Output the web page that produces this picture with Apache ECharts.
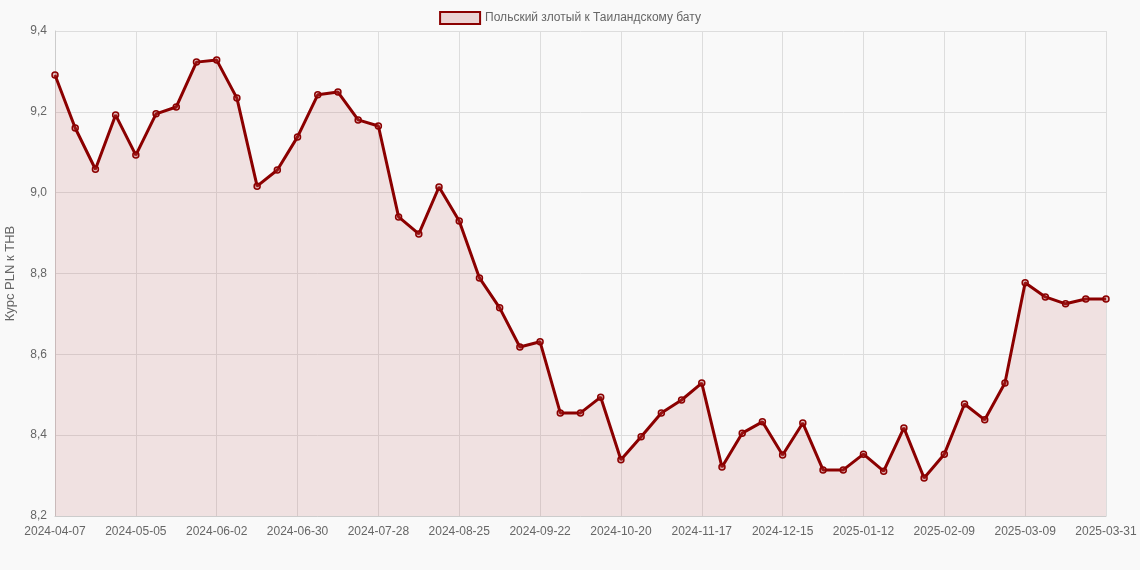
<!DOCTYPE html>
<html><head><meta charset="utf-8">
<script src="https://cdn.jsdelivr.net/npm/echarts@6/dist/echarts.min.js"></script>
<style>html,body{margin:0;background:#f9f9f9}#c{width:1140px;height:570px}</style>
</head><body><div id="c"></div>
<script>
const startDate = '2024-04-07';
const lastDate = '2025-03-31';
const values = [9.291,9.16,9.058,9.192,9.093,9.195,9.212,9.323,9.328,9.234,9.016,9.056,9.138,9.242,9.249,9.18,9.165,8.94,8.898,9.014,8.93,8.789,8.715,8.618,8.631,8.455,8.455,8.494,8.339,8.396,8.455,8.487,8.529,8.321,8.405,8.433,8.351,8.430,8.314,8.314,8.353,8.311,8.418,8.294,8.353,8.477,8.438,8.529,8.777,8.742,8.725,8.737,8.737];
const categories = [];
{
  const d = new Date(startDate + 'T00:00:00Z');
  for (let i = 0; i < values.length - 1; i++) {
    categories.push(d.toISOString().slice(0,10));
    d.setUTCDate(d.getUTCDate() + 7);
  }
  categories.push(lastDate);
}
const last = categories.length - 1;
const showIdx = (i) => i % 4 === 0 || i === last;
const chart = echarts.init(document.getElementById('c'));
chart.setOption({
  backgroundColor: '#f9f9f9',
  textStyle: {fontFamily: 'Liberation Sans, Arial, sans-serif'},
  legend: {top: 6, itemWidth: 40, itemHeight: 12, textStyle: {color: '#666', fontSize: 12},
    data: [{name: 'Польский злотый к Таиландскому бату', icon: 'rect',
      itemStyle: {color: 'rgba(180,60,60,0.2)', borderColor: '#8b0000', borderWidth: 2}}]},
  grid: {left: 55, right: 34, top: 31, bottom: 54, outerBoundsMode: 'none', containLabel: false},
  xAxis: {type: 'category', data: categories, boundaryGap: false,
    axisLine: {lineStyle: {color: '#ccc'}}, axisTick: {show: false},
    axisLabel: {interval: (i) => showIdx(i), color: '#666', fontSize: 12, margin: 10},
    splitLine: {show: true, interval: (i) => showIdx(i), lineStyle: {color: '#ddd'}}},
  yAxis: {type: 'value', min: 8.2, max: 9.4, interval: 0.2, name: 'Курс PLN к THB',
    nameLocation: 'middle', nameGap: 38, nameTextStyle: {color: '#666', fontSize: 13},
    axisLine: {show: true, lineStyle: {color: '#ccc'}},
    axisLabel: {color: '#666', fontSize: 12, formatter: v => v.toFixed(1).replace('.', ',')},
    splitLine: {lineStyle: {color: '#ddd'}}},
  series: [{name: 'Польский злотый к Таиландскому бату', type: 'line', data: values,
    symbol: 'circle', symbolSize: 6, showAllSymbol: true,
    itemStyle: {color: 'rgba(180,60,60,0.3)', borderColor: '#8b0000', borderWidth: 1.5},
    lineStyle: {color: '#8b0000', width: 3},
    areaStyle: {color: 'rgba(180,60,60,0.18)'}}]
});
</script></body></html>
